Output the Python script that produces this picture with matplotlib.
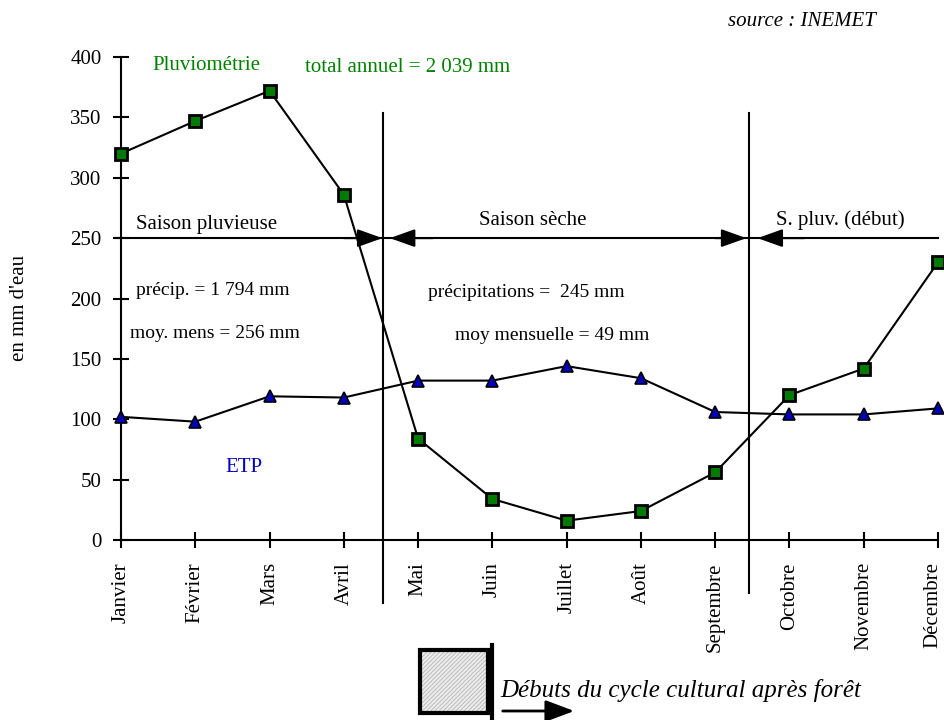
import matplotlib
matplotlib.use("Agg")
import matplotlib.pyplot as plt
from matplotlib.patches import Rectangle, FancyArrowPatch
from matplotlib.lines import Line2D
from matplotlib.transforms import ScaledTranslation
import numpy as np

plt.rcParams['font.family'] = ['Liberation Serif', 'DejaVu Serif']
plt.rcParams['hatch.linewidth'] = 0.6

mois = ["Janvier", "Février", "Mars", "Avril", "Mai", "Juin", "Juillet",
        "Août", "Septembre", "Octobre", "Novembre", "Décembre"]
pluvio = [320, 347, 372, 286, 84, 34, 16, 24, 56, 120, 142, 230]
etp = [102, 98, 119, 118, 132, 132, 144, 134, 106, 104, 104, 109]
yticks = [0, 50, 100, 150, 200, 250, 300, 350, 400]

# limites des saisons (en position de mois)
lim_seche = 3.53
lim_pluv = 8.45

fig = plt.figure(figsize=(9.44, 7.2), dpi=100)
ax = fig.add_axes([121 / 944, 0.25, 817 / 944, 483 / 720])
x = np.arange(len(mois))

ax.plot(x, pluvio, color="k", lw=1.5, marker="s", ms=8, mfc="#007a00",
        mec="k", mew=2, clip_on=False, zorder=5)
ax.plot(x, etp, color="k", lw=1.5, marker="^", ms=9, mfc="#0000c0",
        mec="k", mew=1.2, clip_on=False, zorder=5)

ax.set_xlim(0, 11)
ax.set_ylim(0, 400)
ax.set_xticks(x)
ax.set_xticklabels(mois, rotation=90, fontsize=15, va="top", ha="center")
ax.set_yticks(yticks)
ax.set_yticklabels([str(v) for v in yticks], fontsize=15)
ax.tick_params(axis="both", direction="inout", length=12, width=1.5)
ax.tick_params(axis="x", pad=10)
ax.tick_params(axis="y", pad=8)
for s in ["top", "right"]:
    ax.spines[s].set_visible(False)
for s in ["left", "bottom"]:
    ax.spines[s].set_linewidth(1.5)

# decembre colle au bord : on le pousse un peu a gauche
dec = ax.get_xticklabels()[-1]
dec.set_transform(dec.get_transform() + ScaledTranslation(-4 / 72, 0, fig.dpi_scale_trans))

# limites verticales des saisons
ax.plot([lim_seche, lim_seche], [-52, 354], color="k", lw=1.5, clip_on=False)
ax.plot([lim_pluv, lim_pluv], [-44, 354], color="k", lw=1.5, clip_on=False)

# ligne des saisons avec fleches
ax.plot([-0.08, 11], [250, 250], color="k", lw=1.5, clip_on=False)
head = dict(arrowstyle="-|>,head_length=0.7,head_width=0.25", color="k",
            lw=1.5, mutation_scale=22, shrinkA=0, shrinkB=0)
for a, b in [(3.0, lim_seche - 0.01), (4.2, 3.62), (8.0, lim_pluv - 0.03), (9.2, 8.57)]:
    ax.annotate("", xy=(b, 250), xytext=(a, 250), arrowprops=head)

ax.text(0.2, 261, "Saison pluvieuse", fontsize=15, va="center", ha="left")
ax.text(5.55, 265, "Saison sèche", fontsize=15, va="center", ha="center")
ax.text(9.69, 265, "S. pluv. (début)", fontsize=15, va="center", ha="center")
ax.text(0.2, 207, "précip. = 1 794 mm", fontsize=14, va="center", ha="left")
ax.text(0.12, 171, "moy. mens = 256 mm", fontsize=14, va="center", ha="left")
ax.text(4.14, 205, "précipitations =  245 mm", fontsize=14, va="center", ha="left")
ax.text(4.5, 169, "moy mensuelle = 49 mm", fontsize=14, va="center", ha="left")
ax.text(0.42, 393, "Pluviométrie", fontsize=15, color="#008000", va="center", ha="left")
ax.text(2.48, 391, "total annuel = 2 039 mm", fontsize=15, color="#008000",
        va="center", ha="left")
ax.text(1.66, 60, "ETP", fontsize=15, color="#0000c0", va="center", ha="center")

fig.text(0.021, 0.572, "en mm d'eau", rotation=90, fontsize=15, va="center", ha="center")
fig.text(728 / 944, 1 - 22 / 720, "source : INEMET", fontsize=15, style="italic",
         va="center", ha="left")

# legende en bas : fond hachure gris puis cadre noir
rect = (420 / 944, 7 / 720)
rw, rh = 68 / 944, 63 / 720
fig.add_artist(Rectangle(rect, rw, rh, transform=fig.transFigure,
                         facecolor="#ececec", edgecolor="#b4b4b4", lw=0, hatch="////////"))
fig.add_artist(Rectangle(rect, rw, rh, transform=fig.transFigure,
                         facecolor="none", edgecolor="k", lw=3))
fig.add_artist(Line2D([492 / 944, 492 / 944], [0, 75 / 720], transform=fig.transFigure,
                      color="k", lw=3))
fig.add_artist(FancyArrowPatch((500 / 944, 9 / 720), (577 / 944, 9 / 720),
                               transform=fig.transFigure,
                               arrowstyle="-|>,head_length=0.8,head_width=0.3",
                               mutation_scale=22, color="k", lw=2))
fig.text(500 / 944, 30 / 720, "Débuts du cycle cultural après forêt", fontsize=18,
         style="italic", va="center", ha="left")

fig.savefig("out.png", dpi=100)
